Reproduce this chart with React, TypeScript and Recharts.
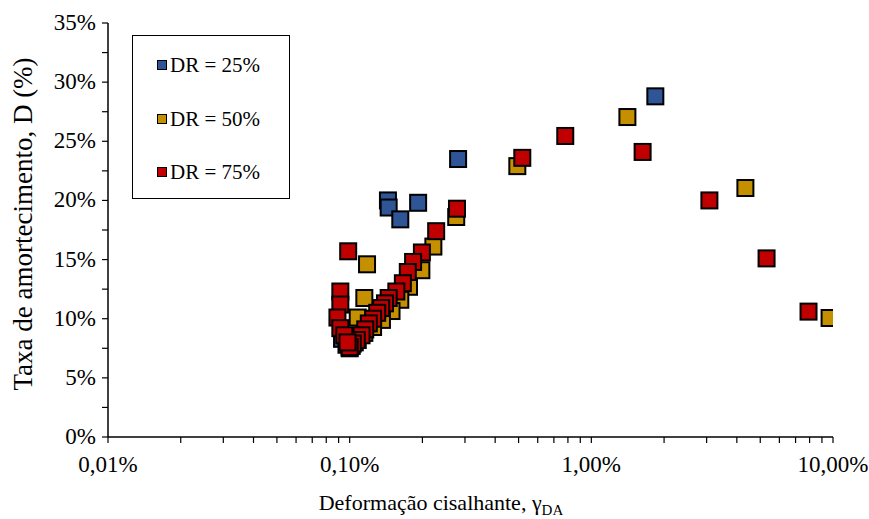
import React from 'react'
import { Scatter, ScatterChart, XAxis, YAxis } from 'recharts'

// shear strain (%) vs damping ratio (%)
const dr25 = [
  { x: 1.84, y: 28.8 },
  { x: 0.281, y: 23.5 },
  { x: 0.192, y: 19.8 },
  { x: 0.144, y: 20.0 },
  { x: 0.145, y: 19.4 },
  { x: 0.162, y: 18.4 },
  { x: 0.093, y: 8.3 },
  { x: 0.097, y: 7.8 },
  { x: 0.1, y: 7.5 },
]

const dr50 = [
  { x: 1.41, y: 27.05 },
  { x: 4.34, y: 21.05 },
  { x: 9.68, y: 10.06 },
  { x: 0.494, y: 22.9 },
  { x: 0.276, y: 18.6 },
  { x: 0.118, y: 14.6 },
  { x: 0.115, y: 11.75 },
  { x: 0.222, y: 16.1 },
  { x: 0.198, y: 14.1 },
  { x: 0.176, y: 12.7 },
  { x: 0.162, y: 11.6 },
  { x: 0.149, y: 10.65 },
  { x: 0.136, y: 9.9 },
  { x: 0.125, y: 9.3 },
  { x: 0.115, y: 8.8 },
  { x: 0.108, y: 8.2 },
  { x: 0.108, y: 10.1 },
  { x: 0.105, y: 8.0 },
  { x: 0.102, y: 7.7 },
]

const dr75 = [
  { x: 0.78, y: 25.45 },
  { x: 0.518, y: 23.6 },
  { x: 1.63, y: 24.1 },
  { x: 3.08, y: 20.0 },
  { x: 5.31, y: 15.1 },
  { x: 7.92, y: 10.6 },
  { x: 0.278, y: 19.3 },
  { x: 0.0986, y: 15.7 },
  { x: 0.228, y: 17.4 },
  { x: 0.199, y: 15.6 },
  { x: 0.183, y: 14.8 },
  { x: 0.174, y: 13.95 },
  { x: 0.166, y: 13.0 },
  { x: 0.156, y: 12.3 },
  { x: 0.145, y: 11.75 },
  { x: 0.14, y: 11.3 },
  { x: 0.135, y: 10.9 },
  { x: 0.13, y: 10.5 },
  { x: 0.125, y: 10.0 },
  { x: 0.12, y: 9.6 },
  { x: 0.116, y: 9.1 },
  { x: 0.112, y: 8.6 },
  { x: 0.107, y: 8.2 },
  { x: 0.103, y: 7.9 },
  { x: 0.1, y: 7.6 },
  { x: 0.0915, y: 12.3 },
  { x: 0.0915, y: 11.2 },
  { x: 0.089, y: 10.1 },
  { x: 0.0915, y: 9.2 },
  { x: 0.095, y: 8.6 },
  { x: 0.098, y: 8.0 },
]

const xMajor = [0.01, 0.1, 1, 10]
const xTicks = [
  0.01, 0.02, 0.03, 0.04, 0.05, 0.06, 0.07, 0.08, 0.09,
  0.1, 0.2, 0.3, 0.4, 0.5, 0.6, 0.7, 0.8, 0.9,
  1, 2, 3, 4, 5, 6, 7, 8, 9, 10,
]
const yTicks = [0, 2.5, 5, 7.5, 10, 12.5, 15, 17.5, 20, 22.5, 25, 27.5, 30, 32.5, 35]

const series = [
  { name: 'DR = 25%', data: dr25, color: '#2F5597' },
  { name: 'DR = 50%', data: dr50, color: '#C49000' },
  { name: 'DR = 75%', data: dr75, color: '#C00000' },
]

const FONT = '"Liberation Serif", "Times New Roman", serif'

const fmtX = (v: number) => v.toFixed(2).replace('.', ',') + '%'

function Square(props: any) {
  const { cx, cy, fill } = props
  if (cx == null || cy == null) return null
  return <rect x={cx - 8} y={cy - 8} width={16} height={16} fill={fill} stroke="#000" strokeWidth={2} />
}

function XTick(props: any) {
  const { x, y, payload } = props
  if (!xMajor.some((m) => Math.abs(m - payload.value) < 1e-9)) return null
  return (
    <text x={x} y={y + 27} textAnchor="middle" fontFamily={FONT} fontSize={23} fill="#000">
      {fmtX(payload.value)}
    </text>
  )
}

function YTick(props: any) {
  const { x, y, payload } = props
  if (payload.value % 5 !== 0) return null
  return (
    <text x={x - 4} y={y + 7} textAnchor="end" fontFamily={FONT} fontSize={23} fill="#000">
      {payload.value}%
    </text>
  )
}

function LegendBox() {
  return (
    <div
      style={{
        position: 'absolute',
        left: 132,
        top: 35,
        width: 158,
        height: 164,
        border: '1.5px solid #000',
        background: '#fff',
        fontFamily: FONT,
        fontSize: 21,
        boxSizing: 'border-box',
      }}
    >
      {series.map((s, i) => (
        <div
          key={s.name}
          style={{ position: 'absolute', left: 24, top: 16 + i * 53.5, display: 'flex', alignItems: 'center', lineHeight: '26px' }}
        >
          <span
            style={{
              display: 'inline-block',
              width: 8,
              height: 8,
              background: s.color,
              border: '1.5px solid #000',
              marginRight: 3,
            }}
          />
          <span>{s.name}</span>
        </div>
      ))}
    </div>
  )
}

export default function App() {
  return (
    <div style={{ position: 'absolute', left: 0, top: 0, width: 869, height: 519, background: '#fff' }}>
      <ScatterChart width={869} height={519} margin={{ top: 23, right: 36, bottom: 0, left: 0 }}>
        <XAxis
          type="number"
          dataKey="x"
          scale="log"
          domain={[0.01, 10]}
          ticks={xTicks}
          interval={0}
          allowDataOverflow
          height={82}
          tick={<XTick />}
          tickSize={6}
          axisLine={{ stroke: '#000', strokeWidth: 1.5 }}
          tickLine={{ stroke: '#000', strokeWidth: 1.2 }}
          label={{
            content: () => (
              <text x={441} y={510} textAnchor="middle" fontFamily={FONT} fontSize={22} fill="#000">
                Deformação cisalhante, γ
                <tspan fontSize={15} dy={5}>DA</tspan>
              </text>
            ),
          }}
        />
        <YAxis
          type="number"
          dataKey="y"
          domain={[0, 35]}
          ticks={yTicks}
          interval={0}
          width={108}
          tick={<YTick />}
          tickSize={6}
          axisLine={{ stroke: '#000', strokeWidth: 1.5 }}
          tickLine={{ stroke: '#000', strokeWidth: 1.2 }}
          label={{
            content: () => (
              <text
                x={32}
                y={224}
                transform="rotate(-90 32 224)"
                textAnchor="middle"
                fontFamily={FONT}
                fontSize={27}
                fill="#000"
              >
                Taxa de amortecimento, D (%)
              </text>
            ),
          }}
        />
        {series.map((s) => (
          <Scatter
            key={s.name}
            name={s.name}
            data={s.data}
            fill={s.color}
            shape={<Square />}
            isAnimationActive={false}
          />
        ))}
      </ScatterChart>
      <LegendBox />
    </div>
  )
}
